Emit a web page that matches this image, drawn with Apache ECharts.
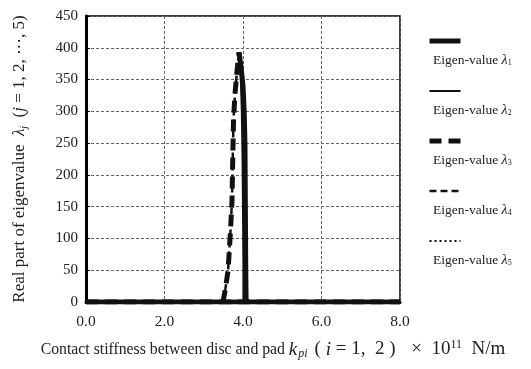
<!DOCTYPE html>
<html>
<head>
<meta charset="utf-8">
<script src="https://cdn.jsdelivr.net/npm/echarts@6/dist/echarts.min.js"></script>
<style>
  html, body { margin: 0; padding: 0; background: #fff; }
  #chart { width: 531px; height: 369px; }
</style>
</head>
<body>
<div id="chart"></div>
<script>
// contact stiffness (x 10^11 N/m) and real part of eigenvalue
const kLeft = [3.49, 3.55, 3.62, 3.68, 3.72, 3.74, 3.76, 3.8, 3.85, 3.9];
const reLeft = [0, 20, 50, 110, 160, 230, 290, 330, 365, 393];
const kRight = [3.9, 3.95, 4.0, 4.03, 4.05, 4.06, 4.07, 4.08];
const reRight = [393, 370, 340, 300, 250, 150, 50, 0];
const kRight2 = [3.9, 3.94, 3.97, 3.99, 4.0, 4.01, 4.01];
const reRight2 = [393, 360, 300, 220, 140, 60, 0];
const kBase = [0, 8];
const reBase = [0, 0];
const names = ['Eigen-value λ1', 'Eigen-value λ2', 'Eigen-value λ3', 'Eigen-value λ4', 'Eigen-value λ5'];
const subs = ['1', '2', '3', '4', '5'];

const chart = echarts.init(document.getElementById('chart'));
const font = 'Liberation Serif';
const zip = (xs, ys) => xs.map((x, i) => [x, ys[i]]);
const gap = [[8, '-']];

const seriesData = [
  zip(kBase, reBase).concat(gap, zip(kRight, reRight)),
  zip(kBase, reBase).concat(gap, zip(kRight2, reRight2)),
  zip(kBase, reBase).concat(gap, zip(kLeft, reLeft)),
  zip(kLeft, reLeft),
  zip(kBase, reBase)
];
const styles = [
  { width: 5, type: 'solid' },
  { width: 2, type: 'solid' },
  { width: 5, type: [12, 7] },
  { width: 2.5, type: [7, 4] },
  { width: 2, type: [2, 3] }
];

const legendIndex = {};
names.forEach((n, i) => { legendIndex[n] = i; });

const option = {
  animation: false,
  grid: { left: 86, right: 131, top: 16, bottom: 67, show: true, borderColor: '#000', borderWidth: 1.5 },
  legend: [
    {
      data: names.map((n, i) => ({
        name: n,
        lineStyle: { width: styles[i].width, type: styles[i].type, color: '#111', cap: 'butt' }
      })),
      orient: 'vertical', left: 422, top: 31,
      itemWidth: 31, itemHeight: 10, itemGap: 41,
      itemStyle: { opacity: 0 },
      formatter: () => '', textStyle: { fontSize: 1 }, selectedMode: false
    },
    {
      data: names.map(n => ({ name: n, icon: 'none' })), orient: 'vertical', left: 423, top: 48,
      itemWidth: 0, itemHeight: 14, itemGap: 36, selectedMode: false,
      formatter: n => 'Eigen-value {i|λ}{s|' + subs[legendIndex[n]] + '}',
      textStyle: {
        fontFamily: font, fontSize: 13.5, color: '#222',
        rich: {
          i: { fontFamily: font, fontStyle: 'italic', fontSize: 14, color: '#222' },
          s: { fontFamily: font, fontSize: 8, color: '#222', verticalAlign: 'bottom', padding: [6, 0, 0, 0] }
        }
      }
    }
  ],
  xAxis: {
    type: 'value', min: 0, max: 8, interval: 2,
    name: 'Contact stiffness between disc and pad {i|k}{s|pi} {m|( }{i|i}{m| = 1,  2 )}    {m|×  10}{p|11}{m|  N/m}',
    nameLocation: 'middle', nameGap: 37,
    nameTextStyle: {
      fontFamily: font, fontSize: 15.75, color: '#222', padding: [0, 0, 0, 60],
      rich: {
        m: { fontFamily: font, fontSize: 19, color: '#222' },
        i: { fontFamily: font, fontStyle: 'italic', fontSize: 19, color: '#222' },
        s: { fontFamily: font, fontStyle: 'italic', fontSize: 12, color: '#222', verticalAlign: 'bottom', padding: [9, 3, 0, 1] },
        p: { fontFamily: font, fontSize: 12, color: '#222', verticalAlign: 'top', padding: [0, 0, 8, 0] }
      }
    },
    axisLine: { lineStyle: { color: '#000', width: 3 } },
    axisTick: { show: false },
    axisLabel: { fontFamily: font, fontSize: 15.5, color: '#222', margin: 12, formatter: v => v.toFixed(1) },
    splitLine: { show: true, lineStyle: { color: '#666', type: [3, 2], width: 1 } }
  },
  yAxis: {
    type: 'value', min: 0, max: 450, interval: 50,
    name: 'Real part of eigenvalue  {i|λ}{s|j}  ({i|j} = 1, 2, ⋯, 5)',
    nameLocation: 'middle', nameGap: 57, nameRotate: 90,
    nameTextStyle: {
      fontFamily: font, fontSize: 17, color: '#222',
      rich: {
        i: { fontFamily: font, fontStyle: 'italic', fontSize: 17, color: '#222' },
        s: { fontFamily: font, fontStyle: 'italic', fontSize: 10, color: '#222', verticalAlign: 'bottom', padding: [8, 0, 0, 0] }
      }
    },
    axisLine: { show: true, lineStyle: { color: '#000', width: 3 } },
    axisTick: { show: true, inside: true, length: 4, lineStyle: { color: '#000' } },
    axisLabel: { fontFamily: font, fontSize: 15, color: '#222', margin: 8 },
    splitLine: { show: true, lineStyle: { color: '#666', type: [3, 2], width: 1 } }
  },
  series: names.map((n, i) => ({
    name: n,
    type: 'line',
    symbol: 'none',
    connectNulls: false,
    z: 10 - i,
    data: seriesData[i],
    lineStyle: { color: '#111', width: styles[i].width, type: styles[i].type, cap: 'butt' },
    itemStyle: { color: '#111' }
  }))
};
chart.setOption(option);
</script>
</body>
</html>
